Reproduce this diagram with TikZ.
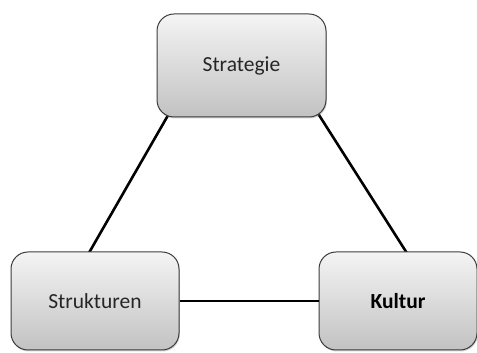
\documentclass[tikz,border=0pt]{standalone}
\usepackage{fontspec}
\setmainfont{Carlito}
\usetikzlibrary{positioning,shadows,backgrounds}
\definecolor{TriTop}{HTML}{F4F4F4}
\definecolor{TriBottom}{HTML}{C2C2C2}
\definecolor{TriBorder}{HTML}{3C3C3C}
\definecolor{TriText}{HTML}{262626}
\tikzset{
  tri box/.style={
    draw=TriBorder,
    line width=1pt,
    top color=TriTop,
    bottom color=TriBottom,
    rounded corners=17pt,
    drop shadow={shadow xshift=0.8pt,shadow yshift=-1.5pt,opacity=0.35},
    text=TriText,
    align=center,
    inner sep=0pt,
    font=\fontsize{21.5}{25}\selectfont
  },
  tri link/.style={draw=black,line width=2.6pt}
}
\begin{document}
\begin{tikzpicture}[x=1pt,y=1pt]
  \useasboundingbox (0,0) rectangle (477,353);
  \node[tri box,minimum width=169pt,minimum height=103pt] (strategie) at (241.5,287.5) {Strategie};
  \node[tri box,minimum width=168pt,minimum height=98pt] (strukturen) at (95,52) {Strukturen};
  \node[tri box,minimum width=158pt,minimum height=98pt,right=139pt of strukturen,text=black,
    font=\fontsize{21.5}{25}\selectfont\bfseries] (kultur) {Kultur};

  \begin{scope}[on background layer]
    \draw[tri link] ([shift={(16pt,10pt)}]strategie.south west) -- ([shift={(-11pt,-10pt)}]strukturen.north);
    \draw[tri link] ([shift={(-12.3pt,10pt)}]strategie.south east) -- ([shift={(14.3pt,-10pt)}]kultur.north);
  \end{scope}
  \draw[tri link] (strukturen) -- (kultur);
\end{tikzpicture}
\end{document}
